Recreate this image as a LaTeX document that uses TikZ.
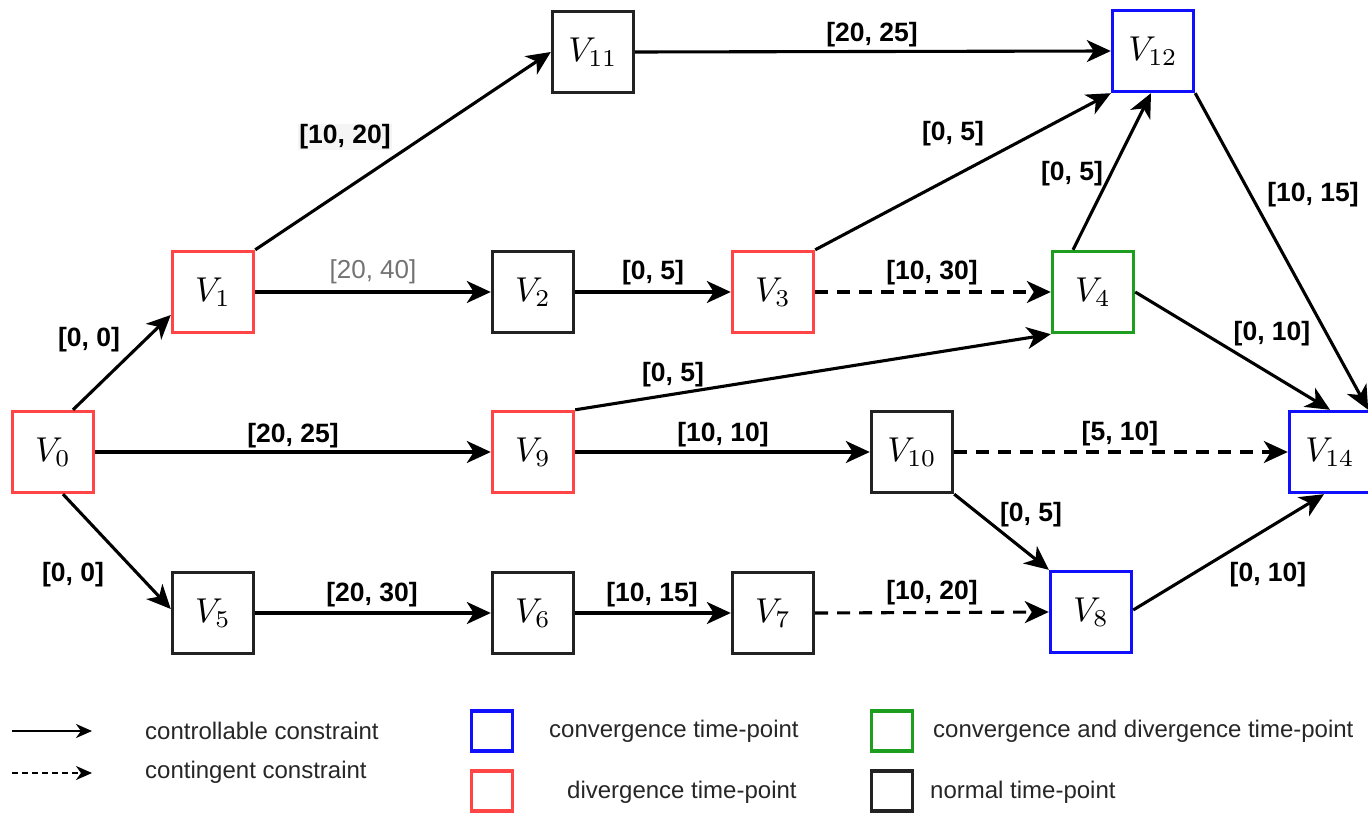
\documentclass[tikz,border=0pt]{standalone}
\usepackage{fontspec}
\setmainfont{Liberation Sans}
\usetikzlibrary{arrows.meta,calc}

\definecolor{cred}{HTML}{FF4545}
\definecolor{cblue}{HTML}{1010FF}
\definecolor{cgreen}{HTML}{1E9E1E}
\definecolor{cblack}{HTML}{222222}

% time-point name, math set at 10pt and enlarged
\newcommand{\tpname}[1]{\scalebox{3.45}{$V_{#1}$}}

\begin{document}
\begin{tikzpicture}[x=1pt,y=-1pt,
  vbox/.style={draw, line width=3.4pt, minimum width=81pt, minimum height=81pt,
    inner sep=0pt, fill=white},
  conv/.style={vbox, draw=cblue},
  divg/.style={vbox, draw=cred},
  both/.style={vbox, draw=cgreen},
  norm/.style={vbox, draw=cblack},
  ctrl/.style={line width=3.1pt, -{Stealth[length=24pt,width=22pt,inset=7pt]}},
  cont/.style={ctrl, dash pattern=on 13pt off 9pt},
  lab/.style={font=\fontsize{26.5}{31}\selectfont\bfseries, inner sep=1pt},
  legtxt/.style={font=\fontsize{24}{28}\selectfont, anchor=west, inner sep=0pt, text=black!85},
  legbox/.style={draw, line width=3.4pt, minimum width=41pt, minimum height=40pt, inner sep=0pt},
  legarrow/.style={line width=2.2pt, -{Stealth[length=16pt,width=14pt,inset=5pt]}}
]
\useasboundingbox (0,0) rectangle (1368,813);
\clip (0,0) rectangle (1368,813);

% time-points
\node[divg] (V0)  at (53,452)   {\tpname{0}};
\node[divg] (V1)  at (213,292)  {\tpname{1}};
\node[norm] (V2)  at (533,292)  {\tpname{2}};
\node[divg] (V3)  at (773,292)  {\tpname{3}};
\node[both] (V4)  at (1093,292) {\tpname{4}};
\node[norm] (V5)  at (213,613)  {\tpname{5}};
\node[norm] (V6)  at (533,613)  {\tpname{6}};
\node[norm] (V7)  at (773,613)  {\tpname{7}};
\node[conv] (V8)  at (1091,612) {\tpname{8}};
\node[divg] (V9)  at (533,452)  {\tpname{9}};
\node[norm] (V10) at (912,452)  {\tpname{10}};
\node[norm] (V11) at (593,52)   {\tpname{11}};
\node[conv] (V12) at (1153,51)  {\tpname{12}};
\node[conv] (V14) at (1330,452) {\tpname{14}};

% controllable constraints
\draw[ctrl] ($(V0.north)+(20,0)$) -- ($(V1.west)+(0,23)$);
\draw[ctrl] ($(V0.south)+(10,0)$) -- ($(V5.west)+(0,-4)$);
\draw[ctrl] (V0.east) -- (V9.west);
\draw[ctrl] (V1.north east) -- (V11.west);
\draw[ctrl] (V1.east) -- (V2.west);
\draw[ctrl] (V2.east) -- (V3.west);
\draw[ctrl] (V11.east) -- (V12.west);
\draw[ctrl] (V3.north east) -- (V12.south west);
\draw[ctrl] ($(V4.north)+(-20,0)$) -- ($(V12.south)+(-2,0)$);
\draw[ctrl] (V12.south east) -- ($(V14.north east)+(-4,0)$);
\draw[ctrl] (V4.east) -- (V14.north);
\draw[ctrl] (V9.north east) -- (V4.south west);
\draw[ctrl] (V9.east) -- (V10.west);
\draw[ctrl] (V10.south east) -- (V8.north west);
\draw[ctrl] ($(V8.east)+(0,-2)$) -- ($(V14.south)+(-6,0)$);
\draw[ctrl] (V5.east) -- (V6.west);
\draw[ctrl] (V6.east) -- (V7.west);

% contingent constraints
\draw[cont] (V3.east) -- (V4.west);
\draw[cont] (V10.east) -- (V14.west);
\draw[cont] (V7.east) -- (V8.west);

% bounds
\node[lab] (b01)   at (89,340)   {[0, 0]};
\node[lab] (b05)   at (73,575)   {[0, 0]};
\node[lab, fill=black!4] (b111) at (345,137) {[10, 20]};
\node[lab, font=\fontsize{26}{31}\selectfont, text=black!55] (b12) at (373,272) {[20, 40]};
\node[lab] (b1112) at (872,35)   {[20, 25]};
\node[lab] (b312)  at (953,134)  {[0, 5]};
\node[lab] (b412)  at (1072,174) {[0, 5]};
\node[lab] (b1214) at (1313,195) {[10, 15]};
\node[lab] (b23)   at (653,273)  {[0, 5]};
\node[lab] (b34)   at (932,273)  {[10, 30]};
\node[lab] (b414)  at (1272,334) {[0, 10]};
\node[lab] (b94)   at (673,375)  {[0, 5]};
\node[lab] (b09)   at (293,436)  {[20, 25]};
\node[lab] (b910)  at (723,435)  {[10, 10]};
\node[lab] (b1014) at (1120,434) {[5, 10]};
\node[lab] (b108)  at (1031,515) {[0, 5]};
\node[lab] (b814)  at (1268,575) {[0, 10]};
\node[lab] (b56)   at (372,595)  {[20, 30]};
\node[lab] (b67)   at (652,595)  {[10, 15]};
\node[lab] (b78)   at (932,593)  {[10, 20]};

% legend
\coordinate (la1) at (12,731);
\coordinate (lb1) at (92,731);
\coordinate (la2) at (12,773);
\coordinate (lb2) at (92,773);
\draw[legarrow] (la1) -- (lb1);
\draw[legarrow, dash pattern=on 6pt off 4pt] (la2) -- (lb2);
\node[legtxt] (t1) at (145,731) {controllable constraint};
\node[legtxt] (t2) at (145,772) {contingent constraint};

\node[legbox, draw=cblue]  (k1) at (492,731) {};
\node[legbox, draw=cred]   (k2) at (492,791) {};
\node[legbox, draw=cgreen] (k3) at (892,731) {};
\node[legbox, draw=cblack] (k4) at (892,791) {};
\node[legtxt] (t3) at (549,731) {convergence time-point};
\node[legtxt] (t4) at (567,792) {divergence time-point};
\node[legtxt] (t5) at (933,731) {convergence and divergence time-point};
\node[legtxt] (t6) at (930,792) {normal time-point};
\end{tikzpicture}
\end{document}
